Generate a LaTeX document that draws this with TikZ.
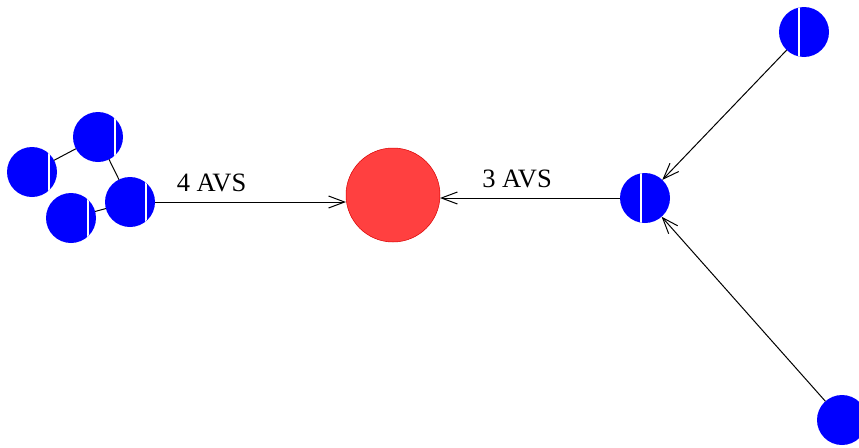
\documentclass[tikz,border=0pt]{standalone}
\usepackage{fontspec}
\setmainfont{Liberation Serif}
\usetikzlibrary{arrows.meta}
\definecolor{avsblue}{RGB}{0,0,255}
\definecolor{hubred}{RGB}{255,64,64}
\tikzset{
  site/.style={circle, fill=avsblue, minimum size=50pt, inner sep=0pt, outer sep=0pt},
  split/.style={path picture={
      \draw[white, line width=1.6pt]
        ([xshift=#1]path picture bounding box.north) --
        ([xshift=#1]path picture bounding box.south);}},
  core/.style={circle, fill=hubred, draw=red!85!black, line width=0.5pt,
               minimum size=94pt, inner sep=0pt, outer sep=0pt},
  link/.style={draw=black, line width=1pt},
  flow/.style={link, -{Straight Barb[length=16pt,width=12pt,line width=1pt]}},
  tag/.style={font=\fontsize{26.5}{30}\selectfont, anchor=base, inner sep=0pt}
}
\begin{document}
\begin{tikzpicture}[x=1pt, y=-1pt]
  \useasboundingbox (0,0) rectangle (859,447);
  \clip (0,0) rectangle (859,447);

  % left cluster of four sites
  \node[site, split=17pt] (a1) at (98,137) {};
  \node[site, split=17pt] (a2) at (32,172) {};
  \node[site, split=17pt] (a3) at (71,218) {};
  \node[site, split=16pt] (a4) at (130,202) {};

  % central node
  \node[core] (c) at (393,195) {};

  % right-hand sites
  \node[site, split=-4pt] (b) at (645,198) {};
  \node[site, split=-5pt] (t) at (804,32) {};
  \node[site] (d) at (842,420) {};

  % links inside the cluster
  \draw[link] (a2) -- (a1);
  \draw[link] (a1) -- (a4);
  \draw[link] (a3) -- (a4);

  % flows towards the centre
  \draw[flow] (a4) -- (c.west |- a4);
  \draw[flow] (b) -- (c.east |- b);
  \draw[flow] (t) -- (b);
  \draw[flow] (d) -- (b);

  % labels
  \node[tag] (l4) at (211.5,191) {4 AVS};
  \node[tag] (l3) at (517,187) {3 AVS};
\end{tikzpicture}
\end{document}
